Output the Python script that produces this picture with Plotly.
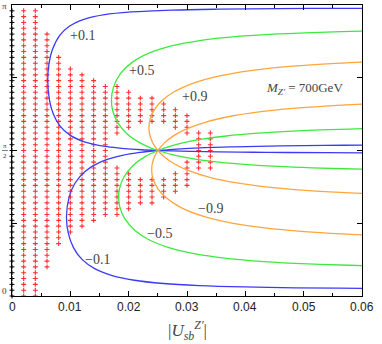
import math
import plotly.graph_objects as go

### DATA ###

# contour branches, (|U_sb|, phi) pairs, each one starts at the crossing point
plus01_a = [(0.02500, 1.5708), (0.02217, 1.5790), (0.01925, 1.5915), (0.01632, 1.6115), (0.01254, 1.6615),
            (0.00993, 1.7365), (0.00821, 1.8365), (0.00710, 1.9615), (0.00643, 2.1115), (0.00613, 2.3261),
            (0.00635, 2.5115), (0.00693, 2.6615), (0.00816, 2.8115), (0.00983, 2.9115), (0.01233, 2.9865),
            (0.01586, 3.0365), (0.02045, 3.0665), (0.02743, 3.0865), (0.03540, 3.0965), (0.04570, 3.1025),
            (0.05847, 3.1060), (0.06463, 3.1070)]
plus01_b = [(0.02500, 1.5708), (0.02701, 1.5809), (0.02958, 1.5909), (0.03306, 1.6009), (0.03816, 1.6109),
            (0.04406, 1.6184), (0.04995, 1.6234), (0.05687, 1.6274), (0.06300, 1.6299)]
plus05_a = [(0.02500, 1.5708), (0.02374, 1.5998), (0.02204, 1.6498), (0.01974, 1.7498), (0.01810, 1.8748),
            (0.01727, 1.9998), (0.01705, 2.1144), (0.01737, 2.2498), (0.01858, 2.3998), (0.02065, 2.5248),
            (0.02358, 2.6248), (0.02732, 2.6998), (0.03243, 2.7598), (0.03825, 2.7998), (0.04564, 2.8298),
            (0.05395, 2.8498), (0.06228, 2.8623)]
plus05_b = [(0.02500, 1.5708), (0.02689, 1.6126), (0.02928, 1.6526), (0.03258, 1.6926), (0.03674, 1.7276),
            (0.04205, 1.7576), (0.04727, 1.7776), (0.05281, 1.7926), (0.05783, 1.8026), (0.06199, 1.8091)]
plus09_a = [(0.02500, 1.5708), (0.02413, 1.6517), (0.02358, 1.7517), (0.02348, 1.8163), (0.02365, 1.9017),
            (0.02432, 2.0017), (0.02559, 2.1017), (0.02772, 2.2017), (0.03124, 2.3017), (0.03560, 2.3767),
            (0.04124, 2.4367), (0.04815, 2.4817), (0.05548, 2.5117), (0.06176, 2.5292)]
plus09_b = [(0.02500, 1.5708), (0.02609, 1.6507), (0.02762, 1.7257), (0.02982, 1.8007), (0.03311, 1.8757),
            (0.03748, 1.9407), (0.04268, 1.9907), (0.04812, 2.0257), (0.05370, 2.0507), (0.05736, 2.0632),
            (0.06192, 2.0757)]
minus01_a = [(0.02500, 1.5708), (0.02199, 1.5501), (0.01910, 1.5201), (0.01513, 1.4451), (0.01251, 1.3451),
             (0.01082, 1.2201), (0.00980, 1.0701), (0.00934, 0.8555), (0.00968, 0.6701), (0.01056, 0.5201),
             (0.01201, 0.3951), (0.01417, 0.2951), (0.01719, 0.2201), (0.02096, 0.1701), (0.02595, 0.1351),
             (0.03207, 0.1126), (0.03986, 0.0976), (0.04858, 0.0886), (0.05585, 0.0841), (0.06230, 0.0813)]
minus01_b = [(0.02500, 1.5708), (0.02742, 1.5657), (0.03065, 1.5607), (0.03540, 1.5557), (0.04133, 1.5517),
             (0.04702, 1.5492), (0.05377, 1.5472), (0.06224, 1.5456)]
minus05_a = [(0.02500, 1.5708), (0.02288, 1.5068), (0.02071, 1.4068), (0.01916, 1.2818), (0.01842, 1.1568),
             (0.01827, 1.0672), (0.01850, 0.9568), (0.01936, 0.8318), (0.02108, 0.7068), (0.02349, 0.6068),
             (0.02689, 0.5218), (0.03120, 0.4568), (0.03674, 0.4068), (0.04319, 0.3718), (0.05075, 0.3468),
             (0.05783, 0.3318), (0.06199, 0.3253)]
minus05_b = [(0.02500, 1.5708), (0.02732, 1.5290), (0.03039, 1.4890), (0.03427, 1.4540), (0.03923, 1.4240),
             (0.04564, 1.3990), (0.05145, 1.3840), (0.05686, 1.3740), (0.06187, 1.3670)]
minus09_a = [(0.02500, 1.5708), (0.02426, 1.4799), (0.02394, 1.3653), (0.02423, 1.2549), (0.02505, 1.1549),
             (0.02654, 1.0549), (0.02899, 0.9549), (0.03258, 0.8649), (0.03748, 0.7899), (0.04334, 0.7349),
             (0.05013, 0.6949), (0.05657, 0.6699), (0.06192, 0.6549)]
minus09_b = [(0.02500, 1.5708), (0.02603, 1.5059), (0.02772, 1.4309), (0.03018, 1.3559), (0.03391, 1.2809),
             (0.03855, 1.2209), (0.04390, 1.1759), (0.05026, 1.1409), (0.05626, 1.1184), (0.06197, 1.1029)]

# scan points: columns in |U_sb| and the row index ranges (row k sits at phi = k*pi/50) that are filled
scan_cols = [0.002, 0.004, 0.006, 0.008, 0.010, 0.012, 0.014, 0.016, 0.018,
             0.020, 0.022, 0.024, 0.026, 0.028, 0.030, 0.032, 0.034]
scan_rows = [[(0, 50)], [(0, 50)], [(5, 45)], [(9, 41)], [(11, 39)], [(12, 38)], [(13, 37)], [(14, 36)],
             [(14, 22), (28, 36)], [(15, 21), (29, 35)], [(16, 20), (30, 34)], [(16, 20), (30, 34)],
             [(17, 20), (30, 33)], [(18, 21), (29, 32)], [(19, 23), (28, 31)], [(22, 28)], [(22, 28)]]
axis_rows = (0, 50)  # black points sitting on the x=0 axis
ROW_STEP = math.pi / 50

# x tick labels
x_ticks = [0, 0.01, 0.02, 0.03, 0.04, 0.05, 0.06]
x_ticktext = ["0", "0.01", "0.02", "0.03", "0.04", "0.05", "0.06"]

# labels: (text, x, phi)
level_labels = [("+0.1", 0.0120, 2.81), ("+0.5", 0.0222, 2.43), ("+0.9", 0.0312, 2.15),
                ("\u22120.9", 0.0340, 0.95), ("\u22120.5", 0.0252, 0.67), ("\u22120.1", 0.0147, 0.39)]
mass_label = ("<i>M</i><sub><i>Z\u2032</i></sub> = 700GeV", 0.0502, 2.245)

### STYLE ###
BLUE = "#3b3bf5"
GREEN = "#3fe83f"
ORANGE = "#ffa53c"
RED = "#ff2e2e"
SERIF = "Liberation Serif"
SANS = "Liberation Sans"

fig = go.Figure()

# * scan points
px, py = [], []
for col, ranges in zip(scan_cols, scan_rows):
    for k0, k1 in ranges:
        for k in range(k0, k1 + 1):
            px.append(col)
            py.append(k * ROW_STEP)
fig.add_trace(go.Scatter(x=px, y=py, mode="markers", showlegend=False,
                         marker=dict(symbol="cross-thin", size=3.5, line=dict(width=1.1, color=RED))))
ax_y = [k * ROW_STEP for k in range(axis_rows[0], axis_rows[1] + 1)]
fig.add_trace(go.Scatter(x=[0] * len(ax_y), y=ax_y, mode="markers", showlegend=False, cliponaxis=False,
                         marker=dict(symbol="cross-thin", size=3.5, line=dict(width=1, color="black"))))

# * contour branches
for pts, color in [(plus01_a, BLUE), (plus01_b, BLUE), (minus01_a, BLUE), (minus01_b, BLUE),
                   (plus05_a, GREEN), (plus05_b, GREEN), (minus05_a, GREEN), (minus05_b, GREEN),
                   (plus09_a, ORANGE), (plus09_b, ORANGE), (minus09_a, ORANGE), (minus09_b, ORANGE)]:
    fig.add_trace(go.Scatter(x=[p[0] for p in pts], y=[p[1] for p in pts], mode="lines", showlegend=False,
                             line=dict(color=color, width=1.3, shape="spline")))

# * labels
for text, lx, ly in level_labels:
    fig.add_annotation(x=lx, y=ly, text=text, showarrow=False, font=dict(family=SERIF, size=14, color="#444"))
fig.add_annotation(x=mass_label[1], y=mass_label[2], text=mass_label[0], showarrow=False,
                   font=dict(family=SERIF, size=13, color="#444"))

# x tick labels placed by hand (close under the axis)
for tv, tt in zip(x_ticks, x_ticktext):
    fig.add_annotation(x=tv, yref="paper", y=0, yanchor="top", yshift=-2, text=tt, showarrow=False,
                       font=dict(family=SANS, size=12, color="#222"))

# y tick labels drawn by hand (stacked pi/2)
yfont = dict(family=SERIF, size=9, color="#333")
fig.add_annotation(xref="paper", x=0, y=0, text="0", showarrow=False, xanchor="right", xshift=-3, yshift=5, font=yfont)
fig.add_annotation(xref="paper", x=0, y=math.pi, text="\u03c0", showarrow=False, xanchor="right", xshift=-3, yshift=-1, font=yfont)
fig.add_annotation(xref="paper", x=0, y=math.pi / 2, text="\u03c0", showarrow=False, xanchor="right", xshift=-3, yshift=5,
                   font=dict(family=SERIF, size=7, color="#333"))
fig.add_annotation(xref="paper", x=0, y=math.pi / 2, text="2", showarrow=False, xanchor="right", xshift=-3, yshift=-5,
                   font=dict(family=SERIF, size=7, color="#333"))
fig.add_shape(type="line", xref="paper", xsizemode="pixel", xanchor=0, x0=-10, x1=-4,
              yref="y", y0=math.pi / 2, y1=math.pi / 2, line=dict(color="#333", width=0.6))

# x axis title
fig.add_annotation(xref="paper", yref="paper", x=0.5, y=0, yshift=-20, yanchor="top", showarrow=False,
                   text="|<i>U</i><sub><i>sb</i></sub><sup><i>Z\u2032</i></sup>|",
                   font=dict(family=SERIF, size=17, color="#444"))

fig.update_xaxes(range=[0, 0.06], tickvals=x_ticks, showticklabels=False,
                 ticks="inside", ticklen=5, tickcolor="black", mirror="ticks", showline=True,
                 linecolor="black", linewidth=1.2, showgrid=False, zeroline=False,
                 minor=dict(dtick=0.005, ticks="inside", ticklen=3, tickcolor="black"))
fig.update_yaxes(range=[0, math.pi], tickvals=[0, math.pi / 4, math.pi / 2, 3 * math.pi / 4, math.pi],
                 showticklabels=False, ticks="inside", ticklen=5, tickcolor="black", mirror="ticks",
                 showline=True, linecolor="black", linewidth=1.2, showgrid=False, zeroline=False)
fig.update_layout(width=382, height=344, margin=dict(l=12, r=20, t=5, b=48),
                  plot_bgcolor="white", paper_bgcolor="white", showlegend=False)

# page body has a default margin; drop it so the figure sits at the window corner
fig.write_html("out.html", config={"displayModeBar": False},
               post_script="document.body.style.margin='0';")
